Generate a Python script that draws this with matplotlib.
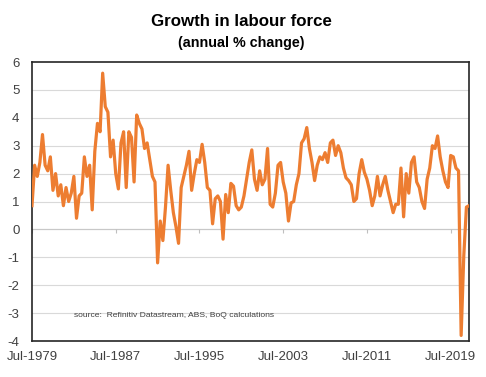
import matplotlib.pyplot as plt
import pandas as pd

# quarterly readings, Jul-1979 onwards (annual % change)
growth = [0.85, 2.3, 1.9, 2.4,
          3.4, 2.3, 2.1, 2.6,
          1.4, 2.0, 1.2, 1.6,
          0.85, 1.5, 1.0, 1.3,
          1.9, 0.4, 1.2, 1.3,
          2.6, 1.9, 2.3, 0.7,
          2.8, 3.8, 3.5, 5.6,
          4.4, 4.2, 2.6, 3.2,
          2.0, 1.45, 3.1, 3.5,
          1.5, 3.5, 3.3, 1.7,
          4.1, 3.8, 3.6, 2.9,
          3.1, 2.5, 1.9, 1.7,
          -1.2, 0.3, -0.4, 0.8,
          2.3, 1.4, 0.6, 0.1,
          -0.5, 1.5, 1.9, 2.3,
          2.8, 1.4, 2.0, 2.5,
          2.4, 3.05, 2.4, 1.5,
          1.4, 0.2, 1.1, 1.2,
          1.0, -0.35, 1.25, 0.6,
          1.65, 1.55, 0.85, 0.7,
          0.8, 1.2, 1.8, 2.4,
          2.85, 1.8, 1.4, 2.1,
          1.6, 1.8, 2.9, 0.9,
          0.8, 1.3, 2.3, 2.4,
          1.7, 1.3, 0.3, 0.95,
          1.0, 1.6, 2.0, 3.1,
          3.25, 3.65, 2.9, 2.4,
          1.75, 2.3, 2.6, 2.5,
          2.75, 2.4, 3.1, 3.2,
          2.65, 3.0, 2.75, 2.2,
          1.85, 1.75, 1.6, 1.0,
          1.1, 2.0, 2.5, 2.05,
          1.8, 1.4, 0.85, 1.2,
          1.9, 1.2, 1.6, 1.9,
          1.4, 1.0, 0.6, 0.9,
          0.9, 2.2, 0.45, 2.0,
          1.3, 2.4, 2.6, 1.7,
          1.5, 1.0, 0.75, 1.8,
          2.2, 3.0, 2.9, 3.35,
          2.6, 2.1, 1.7, 1.5,
          2.65, 2.6, 2.2, 2.1,
          -3.8, -0.95, 0.8, 0.85]
dates = pd.date_range('1979-07-01', periods=len(growth), freq='3MS')

tick_dates = pd.to_datetime(['1979-07-01', '1987-07-01', '1995-07-01',
                             '2003-07-01', '2011-07-01', '2019-07-01'])
tick_labels = ['Jul-1979', 'Jul-1987', 'Jul-1995', 'Jul-2003', 'Jul-2011', 'Jul-2019']
y_ticks = [-4, -3, -2, -1, 0, 1, 2, 3, 4, 5, 6]

plt.rcParams['font.family'] = ['Liberation Sans', 'DejaVu Sans']
plt.rcParams['axes.unicode_minus'] = False

fig = plt.figure(figsize=(4.86, 3.77), dpi=100)
ax = fig.add_axes([32/486, 1 - 341/377, 437/486, 279/377])

for v in y_ticks[1:-1]:
    if v != 0:
        ax.axhline(v, color='#d9d9d9', lw=0.8, zorder=1)
ax.axhline(0, color='#c8c8c8', lw=0.9, zorder=1)
ax.vlines(tick_dates, -0.12, 0, color='#bfbfbf', lw=0.8, zorder=1)

ax.plot(dates, growth, color='#ED7D31', lw=2.3, solid_joinstyle='round', zorder=3)

ax.set_xlim(dates[0], dates[-1])
ax.set_ylim(-4, 6)
ax.set_yticks(y_ticks)
ax.set_xticks(tick_dates)
ax.set_xticklabels(tick_labels)
ax.tick_params(axis='both', length=0, labelsize=9.5, colors='#404040')
ax.tick_params(axis='x', pad=7)
ax.tick_params(axis='y', pad=9)
for s in ax.spines.values():
    s.set_color('#262626')
    s.set_linewidth(1.2)

ax.text(0.096, 0.09, 'source:  Refinitiv Datastream, ABS, BoQ calculations',
        transform=ax.transAxes, fontsize=6.1, color='#404040', va='center')

fig.text(0.497, 1 - 22/377, 'Growth in labour force', ha='center', va='center',
         fontsize=12.2, fontweight='bold')
fig.text(0.497, 1 - 43/377, '(annual % change)', ha='center', va='center',
         fontsize=10.3, fontweight='bold')

fig.savefig('out.png', dpi=100)
